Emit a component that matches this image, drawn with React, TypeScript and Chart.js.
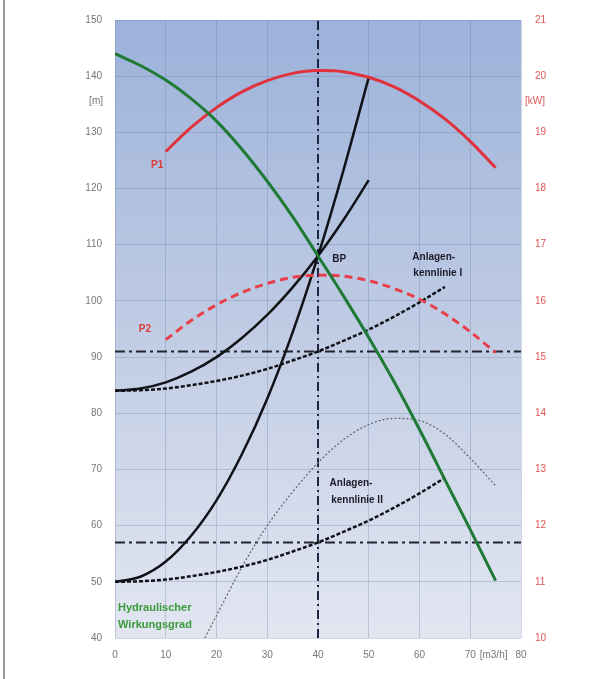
import React, { useEffect, useRef } from "react";
import Chart from "chart.js/auto";

// ---- data ----
const xTickValues = [0, 10, 20, 30, 40, 50, 60, 70, 80];
const leftTickRange = [40, 150];
const rightTickRange = [10, 21];

// pump curve (green), head in m
const qPump = [0, 5, 10, 15, 20, 25, 30, 35, 40, 45, 50, 55, 60, 65, 70, 75];
const hPump = [144, 141.9, 139.3, 136, 132, 127, 121.3, 115, 108, 100.9, 93.5, 85.6, 77.1, 68.2, 59.3, 50.2];

// power curves (kW, right axis)
const qPower = [10, 15, 20, 25, 30, 35, 40, 45, 50, 55, 60, 65, 70, 75];
const powerP1 = [18.66, 19.09, 19.44, 19.72, 19.92, 20.05, 20.1, 20.08, 19.98, 19.81, 19.56, 19.24, 18.84, 18.37];
const powerP2 = [15.31, 15.65, 15.93, 16.15, 16.31, 16.42, 16.46, 16.44, 16.36, 16.22, 16.03, 15.77, 15.45, 15.08];

// solid black curves through BP
const qSolid = [0, 5, 10, 15, 20, 25, 30, 35, 40, 45, 50];
const hSteep = [50, 50.9, 53.6, 58.2, 64.5, 72.7, 82.6, 94.4, 108, 123.2, 139.8];
const hFlat = [84, 84.4, 85.5, 87.4, 90, 93.4, 97.5, 102.4, 108, 114.4, 121.5];

// Anlagenkennlinie I / II (dashed)
const qSystem = [0, 5, 10, 15, 20, 25, 30, 35, 40, 45, 50, 55, 60, 65];
const hSystem1 = [84, 84.1, 84.4, 85, 85.75, 86.7, 87.9, 89.4, 91, 92.9, 94.9, 97.2, 99.75, 102.5];
const hSystem2 = [50, 50.1, 50.4, 51, 51.75, 52.7, 53.9, 55.4, 57, 58.9, 60.9, 63.2, 65.75, 68.5];

// hydraulic efficiency (dotted)
const qEta = [17.7, 20, 25, 30, 35, 40, 45, 50, 55, 60, 65, 70, 75];
const eta = [40, 44, 52.6, 60, 66, 71.2, 75.3, 78, 79.1, 78.7, 76.3, 72, 67.1];

// reference lines
const refHeads = [91, 57];
const refFlow = 40;

// annotations (data coordinates on left axis)
const labelTexts = ["P1", "P2", "BP", "Anlagen-", "kennlinie I", "Anlagen-", "kennlinie II", "Hydraulischer", "Wirkungsgrad"];
const labelX = [8.3, 5.9, 42.8, 62.8, 63.6, 46.5, 47.7, 0.6, 0.6];
const labelY = [124.2, 95.0, 107.4, 107.7, 104.9, 67.6, 64.6, 45.3, 42.3];
const labelKind = ["red", "red", "black", "black", "black", "black", "black", "green", "green"];

const pts = (xs: number[], ys: number[]) => xs.map((x, i) => ({ x, y: ys[i] }));

export default function App() {
  const ref = useRef<HTMLCanvasElement | null>(null);

  useEffect(() => {
    if (!ref.current) return;
    const bgPlugin = {
      id: "bg",
      beforeDraw(chart: any) {
        const { ctx, chartArea } = chart;
        const { left, top, right, bottom } = chartArea;
        const g = ctx.createLinearGradient(0, top, 0, bottom);
        g.addColorStop(0, "#9cb2da");
        g.addColorStop(0.5, "#c0cce4");
        g.addColorStop(1, "#e2e6f1");
        ctx.save();
        ctx.fillStyle = g;
        ctx.fillRect(left, top, right - left, bottom - top);
        ctx.restore();
      },
    };
    const textPlugin = {
      id: "texts",
      afterDraw(chart: any) {
        const { ctx, chartArea, scales } = chart;
        const xs = scales.x;
        const ys = scales.y;
        ctx.save();
        ctx.textBaseline = "middle";
        labelTexts.forEach((t, i) => {
          const kind = labelKind[i];
          const px = xs.getPixelForValue(labelX[i]);
          const py = ys.getPixelForValue(labelY[i]);
          if (kind === "green") {
            ctx.font = "bold 11px 'Liberation Sans', Arial, sans-serif";
            ctx.fillStyle = "#3a9a3a";
            ctx.textAlign = "left";
          } else if (kind === "red") {
            ctx.font = "bold 10px 'Liberation Sans', Arial, sans-serif";
            ctx.fillStyle = "#e03a3a";
            ctx.textAlign = "center";
          } else {
            ctx.font = "bold 10px 'Liberation Sans', Arial, sans-serif";
            ctx.fillStyle = "#1a1a2a";
            ctx.textAlign = t === "BP" ? "left" : "center";
          }
          ctx.fillText(t, px, py);
        });
        // axis unit labels
        ctx.font = "10px 'Liberation Sans', Arial, sans-serif";
        ctx.fillStyle = "#777";
        ctx.textAlign = "right";
        ctx.fillText("[m]", chartArea.left - 12, ys.getPixelForValue(135.5));
        ctx.fillStyle = "#e05555";
        ctx.textAlign = "left";
        ctx.fillText("[kW]", chartArea.right + 4, ys.getPixelForValue(135.5));
        ctx.fillStyle = "#777";
        ctx.textAlign = "center";
        ctx.fillText("[m3/h]", xs.getPixelForValue(74.6), chartArea.bottom + 17);
        ctx.restore();
      },
    };

    const base = { pointRadius: 0, pointHoverRadius: 0, fill: false, cubicInterpolationMode: "monotone" as const };

    const chart = new Chart(ref.current, {
      type: "line",
      data: {
        datasets: [
          { ...base, data: pts(qPump, hPump), borderColor: "#1f7a35", borderWidth: 3, yAxisID: "y" },
          { ...base, data: pts(qPower, powerP1), borderColor: "#e0323c", borderWidth: 3, yAxisID: "y2" },
          { ...base, data: pts(qPower, powerP2), borderColor: "#e8404a", borderWidth: 3, borderDash: [8, 5], yAxisID: "y2" },
          { ...base, data: pts(qSolid, hSteep), borderColor: "#111118", borderWidth: 2.5, yAxisID: "y" },
          { ...base, data: pts(qSolid, hFlat), borderColor: "#111118", borderWidth: 2.5, yAxisID: "y" },
          { ...base, data: pts(qSystem, hSystem1), borderColor: "#111118", borderWidth: 2.5, borderDash: [4, 2], yAxisID: "y" },
          { ...base, data: pts(qSystem, hSystem2), borderColor: "#111118", borderWidth: 2.5, borderDash: [4, 2], yAxisID: "y" },
          { ...base, data: pts(qEta, eta), borderColor: "#666a70", borderWidth: 1.3, borderDash: [2, 2], yAxisID: "y" },
          ...refHeads.map((h) => ({
            ...base,
            cubicInterpolationMode: "default" as const,
            tension: 0,
            data: [{ x: 0, y: h }, { x: 80, y: h }],
            borderColor: "#22252e",
            borderWidth: 2,
            borderDash: [10, 4, 3, 4],
            yAxisID: "y",
          })),
          {
            ...base,
            cubicInterpolationMode: "default" as const,
            tension: 0,
            data: [{ x: refFlow, y: leftTickRange[0] }, { x: refFlow, y: leftTickRange[1] }],
            borderColor: "#1c2640",
            borderWidth: 2,
            borderDash: [9, 4, 2, 4],
            yAxisID: "y",
          },
        ],
      },
      options: {
        responsive: false,
        animation: false,
        devicePixelRatio: 1,
        layout: { padding: { top: 16, left: 0, right: 0, bottom: 0 } },
        plugins: { legend: { display: false }, tooltip: { enabled: false }, title: { display: false } },
        scales: {
          x: {
            type: "linear",
            min: xTickValues[0],
            max: xTickValues[xTickValues.length - 1],
            afterFit: (s: any) => { s.height = 41; },
            afterBuildTicks: (s: any) => { s.ticks = xTickValues.map((v) => ({ value: v })); },
            border: { display: false },
            grid: { color: "rgba(95,115,155,0.28)", drawTicks: false, lineWidth: 1 },
            ticks: { color: "#777", padding: 11, font: { size: 10, family: "'Liberation Sans', Arial, sans-serif" } },
          },
          y: {
            type: "linear",
            position: "left",
            min: leftTickRange[0],
            max: leftTickRange[1],
            afterFit: (s: any) => { s.width = 115; },
            border: { display: false },
            grid: { color: "rgba(95,115,155,0.28)", drawTicks: false, lineWidth: 1 },
            ticks: { stepSize: 10, color: "#777", padding: 13, font: { size: 10, family: "'Liberation Sans', Arial, sans-serif" } },
          },
          y2: {
            type: "linear",
            position: "right",
            min: rightTickRange[0],
            max: rightTickRange[1],
            afterFit: (s: any) => { s.width = 80; },
            border: { display: false },
            grid: { drawOnChartArea: false, drawTicks: false },
            ticks: { stepSize: 1, color: "#e05555", padding: 14, font: { size: 10, family: "'Liberation Sans', Arial, sans-serif" } },
          },
        },
      },
      plugins: [bgPlugin, textPlugin],
    } as any);
    return () => chart.destroy();
  }, []);

  return (
    <div style={{ position: "fixed", left: 0, top: 0, width: 601, height: 679, background: "#fff" }}>
      <div style={{ position: "absolute", left: 3, top: 0, width: 2, height: 679, background: "#9a9a9a" }} />
      <canvas ref={ref} width={601} height={679} style={{ position: "absolute", left: 0, top: 0 }} />
    </div>
  );
}
